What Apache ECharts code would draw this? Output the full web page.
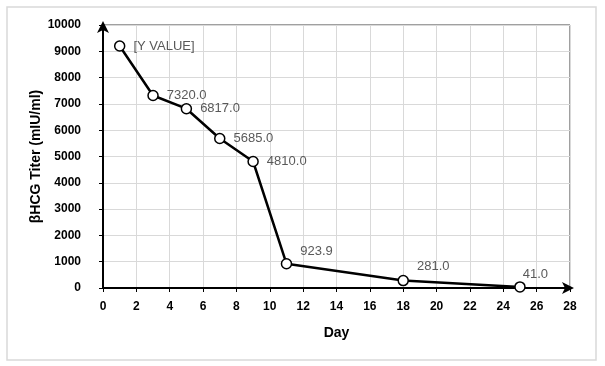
<!DOCTYPE html>
<html><head><meta charset="utf-8">
<script src="https://cdn.jsdelivr.net/npm/echarts@6/dist/echarts.min.js"></script>
<style>html,body{margin:0;padding:0;background:#fff}#c{width:605px;height:366px}</style>
</head><body><div id="c"></div>
<script>
const days = [1, 3, 5, 7, 9, 11, 18, 25];
const titers = [9200, 7320, 6817, 5685, 4810, 923.9, 281, 41];
const labelTexts = ['[Y VALUE]', '7320.0', '6817.0', '5685.0', '4810.0', '923.9', '281.0', '41.0'];
const labelOffsets = [[0,0],[0,0],[0,0],[0,0],[0,0],[0,-12],[0,-14],[-11,-12]];
const xTicks = {min: 0, max: 28, interval: 2};
const yTicks = {min: 0, max: 10000, interval: 1000};

const chart = echarts.init(document.getElementById('c'), null, {renderer: 'canvas'});
const font = '"Liberation Sans", Arial, sans-serif';
chart.setOption({
  animation: false,
  graphic: [{type: 'rect', shape: {x: 7, y: 7, width: 589, height: 353}, style: {fill: 'none', stroke: '#d9d9d9', lineWidth: 1.5}, silent: true}],
  grid: {left: 103, right: 35, top: 25, bottom: 78, show: true, borderColor: '#404040', borderWidth: 1},
  xAxis: {
    type: 'value', min: xTicks.min, max: xTicks.max, interval: xTicks.interval,
    name: 'Day', nameLocation: 'middle', nameGap: 38, nameMoveOverlap: false,
    nameTextStyle: {fontFamily: font, fontWeight: 'bold', fontSize: 14, color: '#000'},
    axisLine: {show: true, lineStyle: {color: '#000', width: 2}, symbol: ['none', 'arrow'], symbolSize: [9, 12], symbolOffset: [0, 4]},
    axisTick: {show: true, length: 4, lineStyle: {color: '#000', width: 1}},
    axisLabel: {fontFamily: font, fontWeight: 'bold', fontSize: 12, color: '#000', margin: 13, formatter: v => String(v)},
    splitLine: {show: true, lineStyle: {color: '#d9d9d9', width: 1}}
  },
  yAxis: {
    type: 'value', min: yTicks.min, max: yTicks.max, interval: yTicks.interval,
    name: 'βHCG Titer (mIU/ml)', nameLocation: 'middle', nameGap: 60, nameRotate: 90, nameMoveOverlap: false,
    nameTextStyle: {fontFamily: font, fontWeight: 'bold', fontSize: 14, color: '#000'},
    axisLine: {show: true, lineStyle: {color: '#000', width: 2}, symbol: ['none', 'arrow'], symbolSize: [9, 12], symbolOffset: [0, 4]},
    axisTick: {show: true, length: 4, lineStyle: {color: '#000', width: 1}},
    axisLabel: {fontFamily: font, fontWeight: 'bold', fontSize: 12, color: '#000', margin: 22, formatter: v => String(v)},
    splitLine: {show: true, lineStyle: {color: '#d9d9d9', width: 1}}
  },
  series: [{
    type: 'line',
    data: days.map((d, i) => ({
      value: [d, titers[i]],
      label: {show: true, position: 'right', distance: 8, offset: labelOffsets[i], formatter: labelTexts[i]}
    })),
    lineStyle: {color: '#000', width: 2.5},
    symbol: 'circle', symbolSize: 10,
    itemStyle: {color: '#fff', borderColor: '#000', borderWidth: 1.5},
    label: {fontFamily: font, fontSize: 13, color: '#595959'},
    z: 5
  }]
});
</script></body></html>
